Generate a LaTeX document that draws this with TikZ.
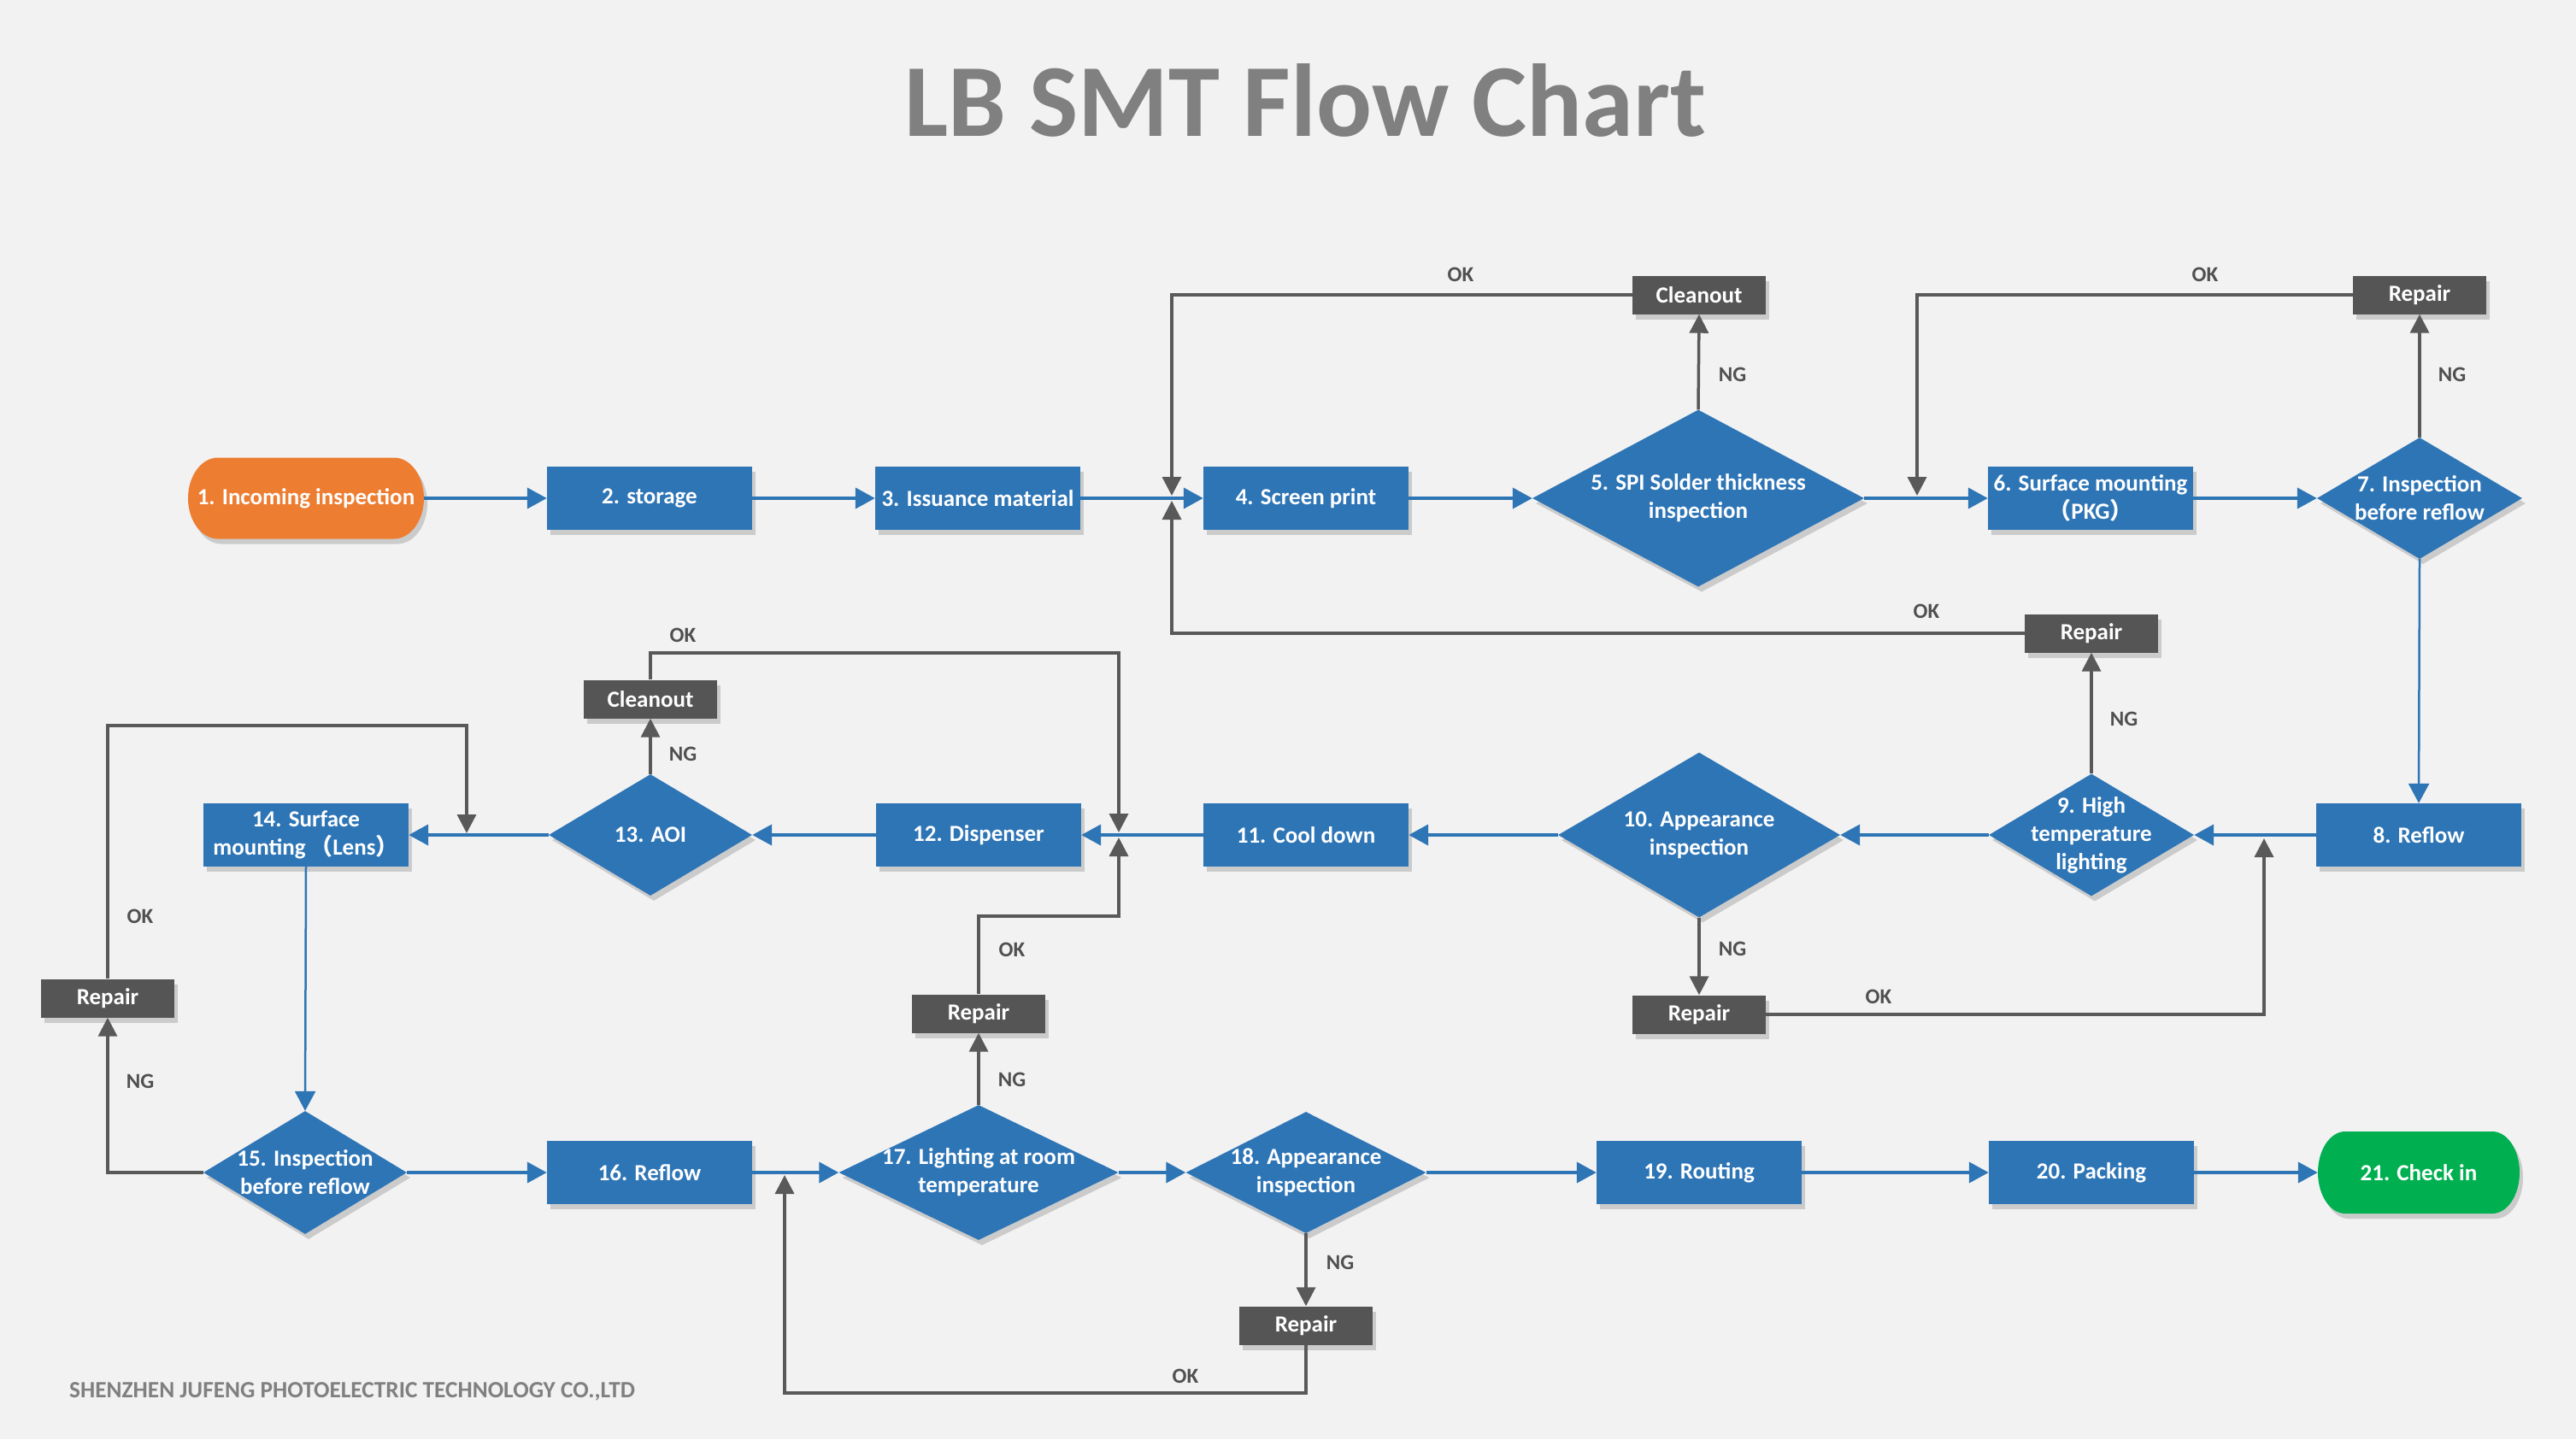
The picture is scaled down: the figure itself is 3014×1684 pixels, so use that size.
\documentclass[tikz,border=0pt]{standalone}
\usepackage{fontspec}
\setmainfont{Carlito}
\newfontfamily\cjk{Noto Sans CJK SC}
\usetikzlibrary{shapes.geometric,arrows.meta,shadows}
\definecolor{bgc}{HTML}{F2F2F2}
\definecolor{flowblue}{HTML}{2E75B6}
\definecolor{startorange}{HTML}{ED7D31}
\definecolor{endgreen}{HTML}{00B050}
\definecolor{boxgray}{HTML}{555555}
\definecolor{linegray}{HTML}{595959}
\definecolor{titlegray}{HTML}{808080}
\definecolor{lblgray}{HTML}{505050}
\begin{document}
\begin{tikzpicture}[x=1pt,y=-1pt,
  softshadow/.style={drop shadow={shadow xshift=4pt,shadow yshift=-6pt,opacity=0.16,fill=black}},
  nodetext/.style={text=white,font=\bfseries\fontsize{27}{33}\selectfont,align=center},
  stepbox/.style={rectangle,fill=flowblue,minimum width=240pt,minimum height=74pt,inner sep=0pt,nodetext,softshadow},
  decision/.style={diamond,fill=flowblue,inner sep=0pt,softshadow},
  dtext/.style={nodetext,inner sep=0pt},
  graybox/.style={rectangle,fill=boxgray,minimum width=156pt,minimum height=45pt,inner sep=0pt,nodetext,softshadow},
  flowarrow/.style={draw=flowblue,line width=4pt,-{Triangle[length=23pt,width=24pt]}},
  flowarrowv/.style={flowarrow,line width=2.5pt},
  backarrow/.style={draw=linegray,line width=3.5pt,-{Triangle[length=22pt,width=22pt]}},
  lbl/.style={text=lblgray,font=\bfseries\fontsize{25}{25}\selectfont,inner sep=0pt},
]
\useasboundingbox (0,0) rectangle (3014,1684);
\fill[bgc] (0,0) rectangle (3014,1684);

% title and footer
\node[text=titlegray,font=\bfseries\fontsize{121}{121}\selectfont,anchor=base,inner sep=0pt] (title) at (1527,159) {LB SMT Flow Chart};
\node[text=titlegray,font=\bfseries\fontsize{27.3}{27.3}\selectfont,anchor=west,inner sep=0pt] (footer) at (81,1628) {SHENZHEN JUFENG PHOTOELECTRIC TECHNOLOGY CO.,LTD};

% start / end shapes
\begin{scope}[shift={(4,6)}]
\fill[black,opacity=0.16] (255,535.5) -- (461,535.5) arc[start angle=90,end angle=-90,x radius=35pt,y radius=47.5pt] -- (255,630.5) arc[start angle=270,end angle=90,x radius=35pt,y radius=47.5pt] -- cycle;
\fill[black,opacity=0.16] (2744,1324) -- (2916,1324) arc[start angle=90,end angle=-90,x radius=32pt,y radius=48pt] -- (2744,1420) arc[start angle=270,end angle=90,x radius=32pt,y radius=48pt] -- cycle;
\end{scope}
\fill[startorange] (255,535.5) -- (461,535.5) arc[start angle=90,end angle=-90,x radius=35pt,y radius=47.5pt] -- (255,630.5) arc[start angle=270,end angle=90,x radius=35pt,y radius=47.5pt] -- cycle;
\fill[endgreen] (2744,1324) -- (2916,1324) arc[start angle=90,end angle=-90,x radius=32pt,y radius=48pt] -- (2744,1420) arc[start angle=270,end angle=90,x radius=32pt,y radius=48pt] -- cycle;
\node[nodetext,minimum width=276pt,minimum height=95pt,inner sep=0pt] (n1) at (358,583) {1. Incoming inspection};
\node[nodetext,minimum width=236pt,minimum height=96pt,inner sep=0pt] (n21) at (2830,1372) {21. Check in};

% row 1
\node[stepbox] (n2) at (760,583) {2. storage};
\node[stepbox] (n3) at (1144,583) {3. Issuance material};
\node[stepbox] (n4) at (1528,583) {4. Screen print};
\node[decision,minimum width=388pt,minimum height=207pt,label={[dtext]center:{5. SPI Solder thickness\\inspection}}] (n5) at (1987,583) {};
\node[stepbox] (n6) at (2446,583) {6. Surface mounting\\{\cjk （}PKG{\cjk ）}};
\node[decision,minimum width=240pt,minimum height=142pt,label={[dtext]center:{7. Inspection\\before reflow}}] (n7) at (2831,583) {};

% row 2
\node[stepbox] (n8) at (2830,977) {8. Reflow};
\node[decision,minimum width=240pt,minimum height=143pt,label={[dtext]center:{9. High\\temperature\\lighting}}] (n9) at (2447,977) {};
\node[decision,minimum width=330pt,minimum height=193pt,label={[dtext]center:{10. Appearance\\inspection}}] (n10) at (1988,977) {};
\node[stepbox] (n11) at (1528,977) {11. Cool down};
\node[stepbox] (n12) at (1145,977) {12. Dispenser};
\node[decision,minimum width=238pt,minimum height=142pt,label={[dtext]center:{13. AOI}}] (n13) at (761,977) {};
\node[stepbox] (n14) at (358,977) {14. Surface\\mounting\,{\cjk （}Lens{\cjk ）}};

% row 3
\node[decision,minimum width=238pt,minimum height=144pt,label={[dtext]center:{15. Inspection\\before reflow}}] (n15) at (357,1372) {};
\node[stepbox] (n16) at (760,1372) {16. Reflow};
\node[decision,minimum width=327pt,minimum height=158pt,label={[dtext]center:{17. Lighting at room\\temperature}}] (n17) at (1145,1372) {};
\node[decision,minimum width=281pt,minimum height=142pt,label={[dtext]center:{18. Appearance\\inspection}}] (n18) at (1528,1372) {};
\node[stepbox] (n19) at (1988,1372) {19. Routing};
\node[stepbox] (n20) at (2447,1372) {20. Packing};

% gray boxes
\node[graybox] (g1) at (1988,345) {Cleanout};
\node[graybox] (g2) at (2831,345) {Repair};
\node[graybox] (g3) at (2447,741) {Repair};
\node[graybox] (g4) at (761,818) {Cleanout};
\node[graybox] (g5) at (126,1168) {Repair};
\node[graybox] (g6) at (1988,1187) {Repair};
\node[graybox] (g7) at (1145,1186) {Repair};
\node[graybox] (g8) at (1528,1551) {Repair};

% main flow
\draw[flowarrow] (n1.east) -- (n2.west);
\draw[flowarrow] (n2.east) -- (n3.west);
\draw[flowarrow] (n3.east) -- (n4.west);
\draw[flowarrow] (n4.east) -- (n5.west);
\draw[flowarrow] (n5.east) -- (n6.west);
\draw[flowarrow] (n6.east) -- (n7.west);
\draw[flowarrowv] (n7.south) -- (n8.north);
\draw[flowarrow] (n8.west) -- (n9.east);
\draw[flowarrow] (n9.west) -- (n10.east);
\draw[flowarrow] (n10.west) -- (n11.east);
\draw[flowarrow] (n11.west) -- (n12.east);
\draw[flowarrow] (n12.west) -- (n13.east);
\draw[flowarrow] (n13.west) -- (n14.east);
\draw[flowarrowv] (n14.south) -- (n15.north);
\draw[flowarrow] (n15.east) -- (n16.west);
\draw[flowarrow] (n16.east) -- (n17.west);
\draw[flowarrow] (n17.east) -- (n18.west);
\draw[flowarrow] (n18.east) -- (n19.west);
\draw[flowarrow] (n19.east) -- (n20.west);
\draw[flowarrow] (n20.east) -- (n21.west);

% junction coordinates
\coordinate (j1a) at (1371,580);
\coordinate (j1b) at (1371,586);
\coordinate (j2) at (2243,580);
\coordinate (j3) at (2649,981);
\coordinate (k1) at (1309,764);
\coordinate (k1t) at (1309,974);
\coordinate (k2) at (546,849);
\coordinate (k2t) at (546,975);
\coordinate (k3) at (1309,1072);
\coordinate (k3t) at (1309,980);
\coordinate (k4) at (918,1630);
\coordinate (k4t) at (918,1375);

% rework loops
\draw[backarrow] (n5.north) -- (g1.south);
\draw[backarrow] (g1.west) -| (j1a);
\draw[backarrow] (n7.north) -- (g2.south);
\draw[backarrow] (g2.west) -| (j2);
\draw[backarrow] (n9.north) -- (g3.south);
\draw[backarrow] (g3.west) -| (j1b);
\draw[backarrow] (n10.south) -- (g6.north);
\draw[backarrow] (g6.east) -| (j3);
\draw[backarrow] (n13.north) -- (g4.south);
\draw[backarrow] (g4.north) |- (k1) -- (k1t);
\draw[backarrow] (n15.west) -| (g5.south);
\draw[backarrow] (g5.north) |- (k2) -- (k2t);
\draw[backarrow] (n17.north) -- (g7.south);
\draw[backarrow] (g7.north) |- (k3) -- (k3t);
\draw[backarrow] (n18.south) -- (g8.north);
\draw[backarrow] (g8.south) |- (k4) -- (k4t);

% labels
\node[lbl] (l1) at (1709,321) {OK};
\node[lbl] (l2) at (2027,438) {NG};
\node[lbl] (l3) at (2580,321) {OK};
\node[lbl] (l4) at (2869,438) {NG};
\node[lbl] (l5) at (2254,715) {OK};
\node[lbl] (l6) at (2485,841) {NG};
\node[lbl] (l7) at (799,743) {OK};
\node[lbl] (l8) at (799,882) {NG};
\node[lbl] (l9) at (164,1072) {OK};
\node[lbl] (l10) at (164,1265) {NG};
\node[lbl] (l11) at (2027,1110) {NG};
\node[lbl] (l12) at (2198,1166) {OK};
\node[lbl] (l13) at (1184,1111) {OK};
\node[lbl] (l14) at (1184,1263) {NG};
\node[lbl] (l15) at (1568,1477) {NG};
\node[lbl] (l16) at (1387,1610) {OK};
\end{tikzpicture}
\end{document}
